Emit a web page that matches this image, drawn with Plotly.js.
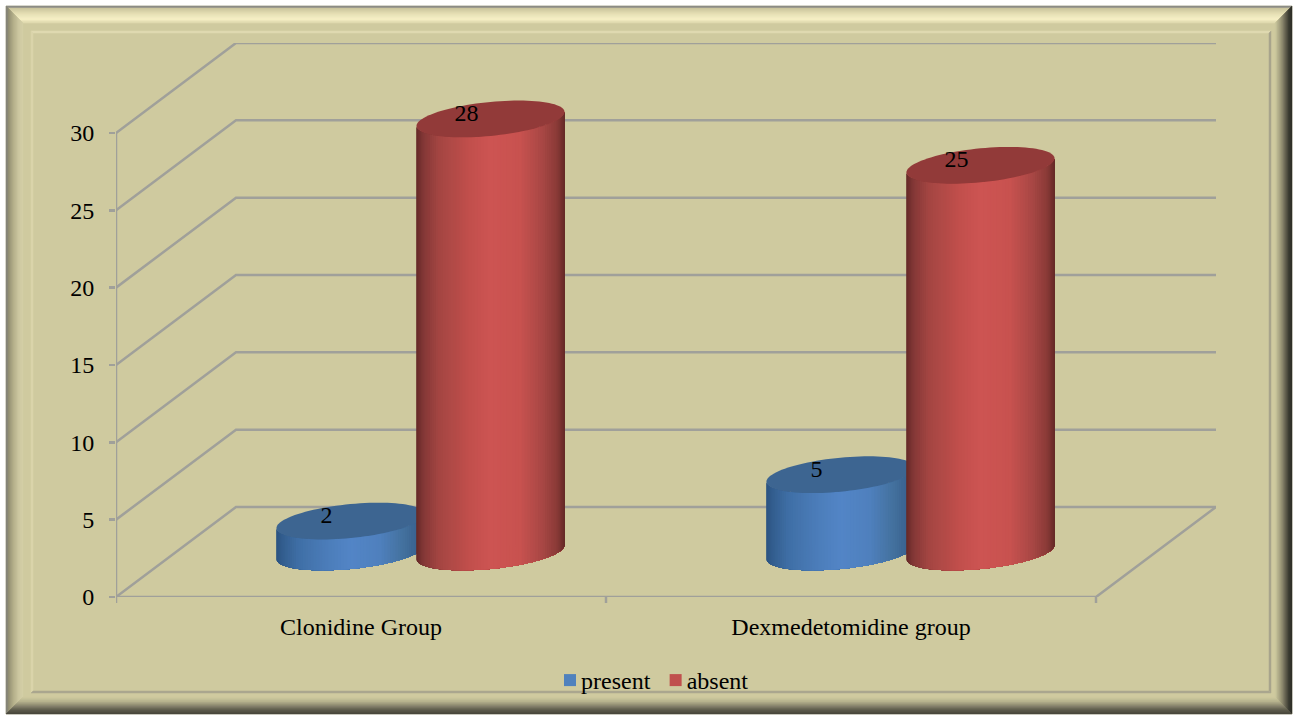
<!DOCTYPE html>
<html>
<head>
<meta charset="utf-8">
<script src="https://cdn.plot.ly/plotly-3.0.1.min.js"></script>
<style>html,body{margin:0;padding:0;background:#fff}</style>
</head>
<body>
<div id="chart" style="width:1294px;height:715px"></div>
<script>
// Chart values
const groups = ['Clonidine Group', 'Dexmedetomidine group'];
const presentCounts = [2, 5];
const absentCounts = [28, 25];
const yTicks = [0, 5, 10, 15, 20, 25, 30];

// Page geometry in pixels
const W = 1294, H = 715;
const plotL = 116, plotR = 1216, plotT = 43, plotB = 597;
const pxPerCat = 490, pxPerUnit = 15.467;

// Oblique depth of the chart box, in axis units
const depthX = 120 / pxPerCat, depthY = 90 / pxPerUnit;

// Cylinder proportions, in axis units
const barOffset = { present: -0.144, absent: 0.1418 };
const radiusX = 74 / pxPerCat;
const radiusY = 17 / pxPerUnit;
const tilt = 7 / pxPerUnit;
const STRIPS = 72;

const GRID = '#a0a09a';
const FONT = '"Liberation Serif", "Times New Roman", serif';
const BASE = '#cfca9f';

const fillRamp = {
  present: [[0, '#2c5482'], [0.05, '#345f90'], [0.15, '#3f6fa6'], [0.35, '#4c7dba'], [0.5, '#5285c6'], [0.7, '#4f80bd'], [0.85, '#44729f'], [0.95, '#3a628f'], [1, '#2f527a']],
  absent: [[0, '#662a28'], [0.05, '#853837'], [0.15, '#a34542'], [0.35, '#c14f4c'], [0.5, '#cd5452'], [0.7, '#c8524f'], [0.85, '#a84745'], [0.95, '#8a3a37'], [1, '#662a28']]
};
const capColor = { present: '#3d6591', absent: '#923a39' };
const swatchColor = { present: '#4f81bd', absent: '#c0504d' };

function hexRgb(h) { return [1, 3, 5].map(i => parseInt(h.substr(i, 2), 16)); }
function rampAt(stops, f) {
  for (let i = 1; i < stops.length; i++) {
    if (f <= stops[i][0]) {
      const t = (f - stops[i - 1][0]) / (stops[i][0] - stops[i - 1][0]);
      const a = hexRgb(stops[i - 1][1]), b = hexRgb(stops[i][1]);
      return 'rgb(' + a.map((v, k) => Math.round(v + (b[k] - v) * t)).join(',') + ')';
    }
  }
  return stops[stops.length - 1][1];
}

// Outline point of a cylinder end: angle measured along a sheared ellipse
function rim(cx, cy, th) {
  return [cx + radiusX * Math.cos(th), cy + tilt * Math.cos(th) + radiusY * Math.sin(th)];
}

// One cylinder: overlapping vertical shaded strips plus an elliptical cap
function cylinderTraces(key, catX, value) {
  const cx = catX + barOffset[key] + depthX / 2;
  const y0 = depthY / 2;
  const y1 = y0 + value;
  const out = [];
  for (let i = 0; i < STRIPS; i++) {
    const mid = Math.PI + Math.PI * (i + 0.5) / STRIPS;
    // run each strip to the far end so the next one paints over it without a seam
    const arc = [];
    for (let j = i; j <= STRIPS; j++) arc.push(Math.PI + Math.PI * j / STRIPS);
    const bottom = arc.map(t => rim(cx, y0, t));
    const top = arc.slice().reverse().map(t => rim(cx, y1, t));
    const poly = bottom.concat(top);
    const c = rampAt(fillRamp[key], (Math.cos(mid) + 1) / 2);
    out.push({
      type: 'scatter', mode: 'none', fill: 'toself', fillcolor: c,
      x: poly.map(p => p[0]), y: poly.map(p => p[1]),
      showlegend: false, hoverinfo: 'skip', cliponaxis: false
    });
  }
  const cap = { x: [], y: [] };
  for (let i = 0; i <= 96; i++) {
    const p = rim(cx, y1, 2 * Math.PI * i / 96);
    cap.x.push(p[0]); cap.y.push(p[1]);
  }
  out.push({
    type: 'scatter', mode: 'none', fill: 'toself', fillcolor: capColor[key], x: cap.x, y: cap.y,
    showlegend: false, hoverinfo: 'skip', cliponaxis: false
  });
  return out;
}

// Legend-carrying bars that sit inside the cylinders
function barTrace(key, name, values) {
  return {
    type: 'bar', name: name, width: 90 / pxPerCat,
    x: values.map((_, i) => i + 0.5 + barOffset[key] + depthX / 2),
    y: values, base: values.map(() => depthY / 2),
    marker: { color: swatchColor[key], line: { width: 0 } }, hoverinfo: 'skip'
  };
}

// Walls and floor of the box
function boxLines() {
  const xs = [], ys = [];
  const seg = pts => { pts.forEach(p => { xs.push(p[0]); ys.push(p[1]); }); xs.push(null); ys.push(null); };
  const n = groups.length;
  yTicks.forEach(v => {
    seg([[0, v], [depthX, v + depthY], [n + depthX, v + depthY]]);
  });
  seg([[0, 0], [n, 0], [n + depthX, depthY]]);
  seg([[0, 0], [0, yTicks[yTicks.length - 1]]]);
  return { type: 'scatter', mode: 'lines', x: xs, y: ys, line: { color: GRID, width: 2.5 }, showlegend: false, hoverinfo: 'skip', cliponaxis: false };
}

// Value labels placed on the caps
function labelTrace() {
  const xs = [], ys = [], t = [];
  [['present', presentCounts], ['absent', absentCounts]].forEach(([key, vals]) => {
    vals.forEach((v, i) => {
      xs.push(i + 0.5 + barOffset[key] + depthX / 2 - 24 / pxPerCat);
      ys.push(depthY / 2 + v + 4 / pxPerUnit);
      t.push(String(v));
    });
  });
  return { type: 'scatter', mode: 'text', x: xs, y: ys, text: t, textposition: 'middle center', textfont: { family: FONT, size: 24, color: '#000' }, showlegend: false, hoverinfo: 'skip', cliponaxis: false };
}

const traces = [barTrace('present', 'present', presentCounts), barTrace('absent', 'absent', absentCounts), boxLines()];
presentCounts.forEach((v, i) => traces.push(...cylinderTraces('present', i + 0.5, v)));
absentCounts.forEach((v, i) => traces.push(...cylinderTraces('absent', i + 0.5, v)));
traces.push(labelTrace());

// Paper coordinates from page pixels
const px = x => (x - plotL) / (plotR - plotL);
const py = y => (plotB - y) / (plotB - plotT);

// Bevelled picture frame
const frame = { L: 6, T: 6, R: 1292, B: 714 };
const bevel = 17;
const rampTop = [[0, '#8a8a84'], [0.1, '#8f8f88'], [0.14, '#c9c49c'], [0.45, '#e4deb4'], [0.8, '#f6f0c6'], [1, '#dcd6ac']];
const rampLeft = [[0, '#858478'], [0.1, '#858478'], [0.15, '#8f8c70'], [0.45, '#b5b08c'], [0.75, '#cbc6a0'], [1, '#d4cfa6']];
const rampRight = [[0, '#2e2f28'], [0.2, '#3c3c32'], [0.45, '#6e6c58'], [0.65, '#9a9678'], [0.85, '#b8b48e'], [1, BASE]];
const rampBottom = [[0, '#45443a'], [0.25, '#5e5c4c'], [0.5, '#8a8770'], [0.75, '#b8b48e'], [1, BASE]];

function quadShape(pts, color) {
  const d = pts.map((p, i) => (i ? 'L' : 'M') + px(p[0]).toFixed(5) + ',' + py(p[1]).toFixed(5)).join(' ') + ' Z';
  return { type: 'path', xref: 'paper', yref: 'paper', path: d, fillcolor: color, line: { color: color, width: 0.5 }, layer: 'below' };
}

const shapes = [];
shapes.push(quadShape([[frame.L, frame.T], [frame.R, frame.T], [frame.R, frame.B], [frame.L, frame.B]], BASE));
for (let i = 0; i < bevel; i++) {
  const f = (i + 0.5) / bevel;
  const a = { l: frame.L + i, t: frame.T + i, r: frame.R - i, b: frame.B - i };
  const c = { l: a.l + 1, t: a.t + 1, r: a.r - 1, b: a.b - 1 };
  shapes.push(quadShape([[a.l, a.t], [a.r, a.t], [c.r, c.t], [c.l, c.t]], rampAt(rampTop, f)));
  shapes.push(quadShape([[a.l, a.t], [c.l, c.t], [c.l, c.b], [a.l, a.b]], rampAt(rampLeft, f)));
  shapes.push(quadShape([[a.r, a.t], [a.r, a.b], [c.r, c.b], [c.r, c.t]], rampAt(rampRight, f)));
  shapes.push(quadShape([[a.l, a.b], [a.r, a.b], [c.r, c.b], [c.l, c.b]], rampAt(rampBottom, f)));
}
// Thin inner rule of the frame
const inner = { l: 31, t: 31, r: 1271, b: 693 };
shapes.push(quadShape([[inner.l, inner.t], [inner.r, inner.t], [inner.r - 2, inner.t + 2], [inner.l + 2, inner.t + 2]], '#dfd9b0'));
shapes.push(quadShape([[inner.l, inner.t], [inner.l + 2, inner.t + 2], [inner.l + 2, inner.b - 2], [inner.l, inner.b]], '#dad4aa'));
shapes.push(quadShape([[inner.r, inner.t], [inner.r, inner.b], [inner.r - 2, inner.b - 2], [inner.r - 2, inner.t + 2]], '#a8a48c'));
shapes.push(quadShape([[inner.l, inner.b], [inner.r, inner.b], [inner.r - 2, inner.b - 2], [inner.l + 2, inner.b - 2]], '#aba78f'));

// Tick marks at the category boundaries
for (let i = 0; i <= groups.length; i++) {
  shapes.push({ type: 'line', xref: 'x', yref: 'paper', x0: i, x1: i, y0: 0, y1: -6 / (plotB - plotT), line: { color: GRID, width: 2.5 }, layer: 'below' });
}

const layout = {
  width: W, height: H, autosize: false,
  margin: { l: plotL, r: W - plotR, t: plotT, b: H - plotB, pad: 0, autoexpand: false },
  paper_bgcolor: '#ffffff', plot_bgcolor: 'rgba(0,0,0,0)',
  font: { family: FONT, size: 24, color: '#000' },
  showlegend: true,
  legend: {
    orientation: 'h', x: px(550), y: py(658), xanchor: 'left', yanchor: 'top', indentation: -9,
    bgcolor: 'rgba(0,0,0,0)', borderwidth: 0, font: { family: FONT, size: 24, color: '#000' },
    traceorder: 'normal', itemclick: false, itemdoubleclick: false
  },
  barmode: 'overlay', hovermode: false,
  xaxis: {
    range: [0, groups.length + depthX], showgrid: false, zeroline: false, showline: false,
    tickmode: 'array', tickvals: groups.map((_, i) => i + 0.5), ticktext: groups,
    ticks: '', ticklabelstandoff: 13, tickfont: { family: FONT, size: 24, color: '#000' }, fixedrange: true
  },
  yaxis: {
    range: [0, (plotB - plotT) / pxPerUnit], showgrid: false, zeroline: false, showline: false,
    tickmode: 'array', tickvals: yTicks, ticks: 'outside', ticklen: 6, tickwidth: 2.5, tickcolor: GRID,
    ticklabelstandoff: 10, tickfont: { family: FONT, size: 24, color: '#000' }, fixedrange: true
  },
  shapes: shapes
};

Plotly.newPlot('chart', traces, layout, { displayModeBar: false, staticPlot: true }).then(gd => {
  // Bring each legend swatch closer to its label
  gd.querySelectorAll('.legend .traces .layers').forEach(g => {
    g.setAttribute('transform', 'translate(9,0) ' + (g.getAttribute('transform') || ''));
  });
});
</script>
</body>
</html>
